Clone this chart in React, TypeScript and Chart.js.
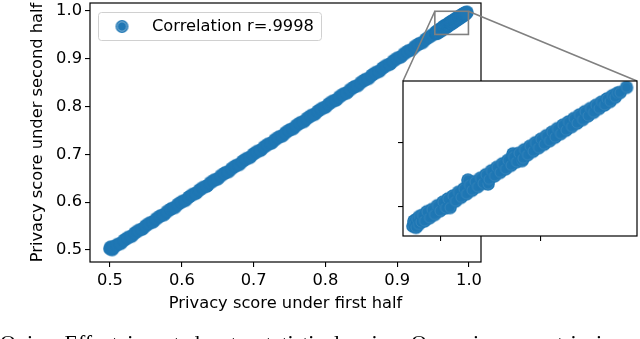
import React, { useEffect, useRef } from "react";
import { Chart, registerables } from "chart.js";

Chart.register(...registerables);

// ---------- text ----------
const legendLabel = "Correlation r=.9998";
const xAxisTitle = "Privacy score under first half";
const yAxisTitle = "Privacy score under second half";
const captionText = "Onion Effect is not due to statistical noise. Our privacy metric is";

// ---------- ticks & ranges ----------
const mainTicks = [0.5, 0.6, 0.7, 0.8, 0.9, 1.0];
const insetTicks = [0.96, 0.98];
const mainXRange = [0.4721, 1.0167];
const mainYRange = [0.4749, 1.0167];
const insetXRange = [0.9524, 0.9992];
const insetYRange = [0.9509, 0.9994];

// ---------- data: [first half score, second half score] ----------
const lowRangePoints: [number, number][] = [
  [0.500, 0.503], [0.501, 0.506], [0.503, 0.501], [0.505, 0.506], [0.510, 0.511],
  [0.515, 0.514], [0.520, 0.521], [0.525, 0.526], [0.530, 0.529], [0.535, 0.536],
  [0.540, 0.541], [0.545, 0.544], [0.550, 0.551], [0.555, 0.556], [0.560, 0.559],
  [0.565, 0.566], [0.570, 0.571], [0.575, 0.574], [0.580, 0.581], [0.585, 0.586],
  [0.590, 0.589], [0.595, 0.596], [0.600, 0.601], [0.605, 0.604], [0.610, 0.611],
  [0.615, 0.616], [0.620, 0.619], [0.625, 0.626], [0.630, 0.631], [0.635, 0.634],
  [0.640, 0.641], [0.645, 0.646], [0.650, 0.649], [0.655, 0.656], [0.660, 0.661],
  [0.665, 0.664], [0.670, 0.671], [0.675, 0.676], [0.680, 0.679], [0.685, 0.686],
  [0.690, 0.691], [0.695, 0.694], [0.700, 0.701], [0.705, 0.706], [0.710, 0.709],
  [0.715, 0.716], [0.720, 0.721], [0.725, 0.724], [0.730, 0.731], [0.735, 0.736],
  [0.740, 0.739], [0.745, 0.746], [0.750, 0.751], [0.755, 0.754], [0.760, 0.761],
  [0.765, 0.766], [0.770, 0.769], [0.775, 0.776], [0.780, 0.781], [0.785, 0.784],
  [0.790, 0.791], [0.795, 0.796], [0.800, 0.799], [0.805, 0.806], [0.810, 0.811],
  [0.815, 0.814], [0.820, 0.821], [0.825, 0.826], [0.830, 0.829], [0.835, 0.836],
  [0.840, 0.841], [0.845, 0.844], [0.850, 0.851], [0.855, 0.856], [0.860, 0.859],
  [0.865, 0.866], [0.870, 0.871], [0.875, 0.874], [0.880, 0.881], [0.885, 0.886],
  [0.890, 0.889], [0.895, 0.896], [0.900, 0.901], [0.905, 0.904], [0.910, 0.911],
  [0.915, 0.916], [0.920, 0.919], [0.925, 0.926], [0.930, 0.931], [0.935, 0.934],
  [0.940, 0.941], [0.945, 0.946], [0.950, 0.951],
];

// core of the band in the zoomed region
const highRangeMidPoints: [number, number][] = [
  [0.9560, 0.9562], [0.9571, 0.9573], [0.9582, 0.9583], [0.9593, 0.9596], [0.9604, 0.9606],
  [0.9615, 0.9616], [0.9626, 0.9629], [0.9637, 0.9639], [0.9648, 0.9650], [0.9659, 0.9662],
  [0.9670, 0.9672], [0.9681, 0.9683], [0.9692, 0.9695], [0.9703, 0.9705], [0.9714, 0.9716],
  [0.9725, 0.9728], [0.9736, 0.9738], [0.9747, 0.9749], [0.9758, 0.9761], [0.9769, 0.9771],
  [0.9780, 0.9782], [0.9791, 0.9794], [0.9802, 0.9804], [0.9813, 0.9815], [0.9824, 0.9827],
  [0.9835, 0.9837], [0.9846, 0.9848], [0.9857, 0.9860], [0.9868, 0.9870], [0.9879, 0.9881],
  [0.9890, 0.9892], [0.9901, 0.9903], [0.9912, 0.9914], [0.9923, 0.9925], [0.9934, 0.9936],
  [0.9945, 0.9947],
];

// edges and outliers of the band in the zoomed region
const highRangePoints: [number, number][] = [
  [0.9544, 0.9540], [0.9546, 0.9556], [0.9548, 0.9548], [0.9550, 0.9536], [0.9552, 0.9562],
  [0.9555, 0.9545], [0.9557, 0.9570], [0.9560, 0.9553], [0.9563, 0.9574], [0.9567, 0.9556],
  [0.9572, 0.9585], [0.9577, 0.9566], [0.9582, 0.9592], [0.9587, 0.9576], [0.9593, 0.9604],
  [0.9598, 0.9588], [0.9604, 0.9615], [0.9609, 0.9597], [0.9614, 0.9625], [0.9618, 0.9598],
  [0.9624, 0.9634], [0.9629, 0.9618], [0.9635, 0.9646], [0.9640, 0.9630], [0.9646, 0.9657],
  [0.9651, 0.9641], [0.9654, 0.9684], [0.9657, 0.9668], [0.9662, 0.9652], [0.9668, 0.9679],
  [0.9673, 0.9663], [0.9679, 0.9690], [0.9684, 0.9674], [0.9690, 0.9701], [0.9694, 0.9672],
  [0.9696, 0.9686], [0.9701, 0.9713], [0.9707, 0.9697], [0.9712, 0.9724], [0.9718, 0.9708],
  [0.9723, 0.9735], [0.9729, 0.9719], [0.9734, 0.9746], [0.9740, 0.9730], [0.9744, 0.9766],
  [0.9745, 0.9757], [0.9751, 0.9741], [0.9756, 0.9768], [0.9762, 0.9745], [0.9764, 0.9752],
  [0.9767, 0.9779], [0.9773, 0.9763], [0.9778, 0.9790], [0.9784, 0.9774], [0.9789, 0.9801],
  [0.9795, 0.9785], [0.9800, 0.9812], [0.9806, 0.9796], [0.9811, 0.9823], [0.9817, 0.9807],
  [0.9822, 0.9834], [0.9828, 0.9818], [0.9833, 0.9845], [0.9839, 0.9829], [0.9844, 0.9856],
  [0.9850, 0.9840], [0.9855, 0.9866], [0.9861, 0.9851], [0.9866, 0.9877], [0.9872, 0.9862],
  [0.9877, 0.9888], [0.9883, 0.9873], [0.9888, 0.9898], [0.9894, 0.9885], [0.9899, 0.9908],
  [0.9905, 0.9896], [0.9910, 0.9918], [0.9916, 0.9908], [0.9921, 0.9928], [0.9927, 0.9919],
  [0.9932, 0.9938], [0.9938, 0.9930], [0.9943, 0.9948], [0.9948, 0.9943], [0.9953, 0.9956],
  [0.9958, 0.9958], [0.9971, 0.9974],
];

// ---------- styling / layout ----------
const BLUE = "#1f77b4";
const FONT_FAMILY = "'DejaVu Sans', sans-serif";
const FONT_SIZE = 16.3;
const MARKER_R = 6.8;
const INSET_CANVAS = { left: 393, top: 78, width: 247, height: 170 };
const INSET_AREA = { left: 403, top: 81, right: 637, bottom: 236 };

function makeMarker(r: number, ringAlpha: number): HTMLCanvasElement {
  const size = Math.ceil(r * 2 + 2);
  const c = document.createElement("canvas");
  c.width = size;
  c.height = size;
  const ctx = c.getContext("2d")!;
  const cx = size / 2;
  ctx.beginPath();
  ctx.arc(cx, cx, r, 0, Math.PI * 2);
  ctx.fillStyle = BLUE;
  ctx.fill();
  if (ringAlpha > 0) {
    ctx.beginPath();
    ctx.arc(cx, cx, r - 1.8, 0, Math.PI * 2);
    ctx.strokeStyle = `rgba(255,255,255,${ringAlpha})`;
    ctx.lineWidth = 0.8;
    ctx.stroke();
  }
  return c;
}

const toXY = (pts: [number, number][]) => pts.map(([x, y]) => ({ x, y }));

const noPadY = (s: any, w: number) => {
  s.width = w;
  s.paddingTop = 0;
  s.paddingBottom = 0;
};
const noPadX = (s: any, h: number) => {
  s.height = h;
  s.paddingLeft = 0;
  s.paddingRight = 0;
};

export default function App() {
  const mainRef = useRef<HTMLCanvasElement>(null);
  const insetRef = useRef<HTMLCanvasElement>(null);

  useEffect(() => {
    const plainMarker = makeMarker(MARKER_R, 0);
    const insetMarker = makeMarker(MARKER_R, 0.12);
    const legendMarker = makeMarker(6.5, 0.55);
    const font = { family: FONT_FAMILY, size: FONT_SIZE };
    const allHigh = [...highRangeMidPoints, ...highRangePoints];

    const mainDecor = {
      id: "mainDecor",
      afterDatasetsDraw(chart: any) {
        const { ctx, chartArea: a, scales } = chart;
        ctx.save();
        ctx.strokeStyle = "#000";
        ctx.lineWidth = 1.2;
        ctx.strokeRect(a.left, a.top, a.right - a.left, a.bottom - a.top);
        const bx0 = scales.x.getPixelForValue(insetXRange[0]);
        const bx1 = scales.x.getPixelForValue(insetXRange[1]);
        const by0 = scales.y.getPixelForValue(insetYRange[1]);
        const by1 = scales.y.getPixelForValue(insetYRange[0]);
        ctx.strokeStyle = "#808080";
        ctx.lineWidth = 1.6;
        ctx.strokeRect(bx0, by0, bx1 - bx0, by1 - by0);
        ctx.beginPath();
        ctx.moveTo(bx0, by0);
        ctx.lineTo(INSET_AREA.left, INSET_AREA.top);
        ctx.moveTo(bx1, by0);
        ctx.lineTo(INSET_AREA.right, INSET_AREA.top);
        ctx.stroke();
        // legend
        const lx = a.left + 8.5;
        const ly = a.top + 9.5;
        const lw = 223;
        const lh = 28;
        ctx.beginPath();
        (ctx as any).roundRect(lx, ly, lw, lh, 3);
        ctx.fillStyle = "rgba(255,255,255,0.8)";
        ctx.fill();
        ctx.strokeStyle = "#d0d0d0";
        ctx.lineWidth = 1;
        ctx.stroke();
        ctx.drawImage(
          legendMarker,
          lx + 23.5 - legendMarker.width / 2,
          ly + lh / 2 - legendMarker.height / 2
        );
        ctx.fillStyle = "#000";
        ctx.font = `${FONT_SIZE}px ${FONT_FAMILY}`;
        ctx.textBaseline = "middle";
        ctx.textAlign = "left";
        ctx.fillText(legendLabel, lx + 53.5, ly + lh / 2 + 0.5);
        ctx.restore();
      },
    };

    const mainChart = new Chart(mainRef.current!, {
      type: "scatter",
      data: {
        datasets: [
          {
            label: legendLabel,
            data: toXY([...lowRangePoints, ...allHigh]),
            pointStyle: plainMarker as any,
            pointRadius: MARKER_R,
            backgroundColor: BLUE,
            borderColor: BLUE,
            clip: 0 as any,
          },
        ],
      },
      options: {
        responsive: false,
        animation: false,
        devicePixelRatio: 1,
        events: [],
        layout: { autoPadding: false, padding: { left: 0, top: 3, right: 159, bottom: 0 } },
        plugins: { legend: { display: false }, tooltip: { enabled: false } },
        scales: {
          x: {
            type: "linear",
            position: "bottom",
            min: mainXRange[0],
            max: mainXRange[1],
            afterBuildTicks: (s: any) => {
              s.ticks = mainTicks.map((v) => ({ value: v }));
            },
            afterFit: (s: any) => noPadX(s, 77),
            ticks: {
              color: "#000",
              font,
              padding: 4,
              maxRotation: 0,
              autoSkip: false,
              callback: (v: any) => Number(v).toFixed(1),
            },
            grid: { drawOnChartArea: false, drawTicks: true, tickLength: 5, color: "#000", lineWidth: 1.1 },
            border: { display: false },
            title: { display: true, text: xAxisTitle, color: "#000", font, padding: { top: 0, bottom: 25.7 } },
          },
          y: {
            type: "linear",
            position: "left",
            min: mainYRange[0],
            max: mainYRange[1],
            afterBuildTicks: (s: any) => {
              s.ticks = mainTicks.map((v) => ({ value: v }));
            },
            afterFit: (s: any) => noPadY(s, 90),
            ticks: {
              color: "#000",
              font,
              padding: 3,
              autoSkip: false,
              callback: (v: any) => Number(v).toFixed(1),
            },
            grid: { drawOnChartArea: false, drawTicks: true, tickLength: 5, color: "#000", lineWidth: 1.1 },
            border: { display: false },
            title: { display: true, text: yAxisTitle, color: "#000", font, padding: { top: 27.7, bottom: 0 } },
          },
        },
      },
      plugins: [mainDecor],
    });

    const insetDecor = {
      id: "insetDecor",
      beforeDraw(chart: any) {
        const { ctx, chartArea: a } = chart;
        ctx.save();
        ctx.fillStyle = "#fff";
        ctx.fillRect(a.left, a.top, a.right - a.left, a.bottom - a.top);
        ctx.restore();
      },
      afterDatasetsDraw(chart: any) {
        const { ctx, chartArea: a } = chart;
        ctx.save();
        ctx.strokeStyle = "#000";
        ctx.lineWidth = 1.2;
        ctx.strokeRect(a.left, a.top, a.right - a.left, a.bottom - a.top);
        ctx.restore();
      },
    };

    const insetChart = new Chart(insetRef.current!, {
      type: "scatter",
      data: {
        datasets: [
          {
            label: legendLabel,
            data: toXY(allHigh),
            pointStyle: insetMarker as any,
            pointRadius: MARKER_R,
            backgroundColor: BLUE,
            borderColor: BLUE,
            clip: 0 as any,
          },
        ],
      },
      options: {
        responsive: false,
        animation: false,
        devicePixelRatio: 1,
        events: [],
        layout: {
          autoPadding: false,
          padding: {
            left: 0,
            top: INSET_AREA.top - INSET_CANVAS.top,
            right: INSET_CANVAS.left + INSET_CANVAS.width - INSET_AREA.right,
            bottom: 0,
          },
        },
        plugins: { legend: { display: false }, tooltip: { enabled: false } },
        scales: {
          x: {
            type: "linear",
            position: "bottom",
            min: insetXRange[0],
            max: insetXRange[1],
            afterBuildTicks: (s: any) => {
              s.ticks = insetTicks.map((v) => ({ value: v }));
            },
            afterFit: (s: any) => noPadX(s, INSET_CANVAS.top + INSET_CANVAS.height - INSET_AREA.bottom),
            ticks: { display: false },
            grid: { drawOnChartArea: false, drawTicks: true, tickLength: 5, color: "#000", lineWidth: 1.1 },
            border: { display: false },
          },
          y: {
            type: "linear",
            position: "left",
            min: insetYRange[0],
            max: insetYRange[1],
            afterBuildTicks: (s: any) => {
              s.ticks = insetTicks.map((v) => ({ value: v }));
            },
            afterFit: (s: any) => noPadY(s, INSET_AREA.left - INSET_CANVAS.left),
            ticks: { display: false },
            grid: { drawOnChartArea: false, drawTicks: true, tickLength: 5, color: "#000", lineWidth: 1.1 },
            border: { display: false },
          },
        },
      },
      plugins: [insetDecor],
    });

    return () => {
      mainChart.destroy();
      insetChart.destroy();
    };
  }, []);

  return (
    <div
      style={{
        position: "fixed",
        left: 0,
        top: 0,
        width: 640,
        height: 339,
        overflow: "hidden",
        background: "#fff",
      }}
    >
      <canvas
        ref={mainRef}
        width={640}
        height={339}
        style={{ position: "absolute", left: 0, top: 0, width: 640, height: 339 }}
      />
      <canvas
        ref={insetRef}
        width={INSET_CANVAS.width}
        height={INSET_CANVAS.height}
        style={{
          position: "absolute",
          left: INSET_CANVAS.left,
          top: INSET_CANVAS.top,
          width: INSET_CANVAS.width,
          height: INSET_CANVAS.height,
        }}
      />
      <div
        style={{
          position: "absolute",
          left: 0,
          top: 330,
          whiteSpace: "nowrap",
          fontFamily: "'Liberation Serif', 'Times New Roman', serif",
          fontSize: 22,
          lineHeight: "26px",
          wordSpacing: 4,
          color: "#000",
        }}
      >
        {captionText}
      </div>
    </div>
  );
}
